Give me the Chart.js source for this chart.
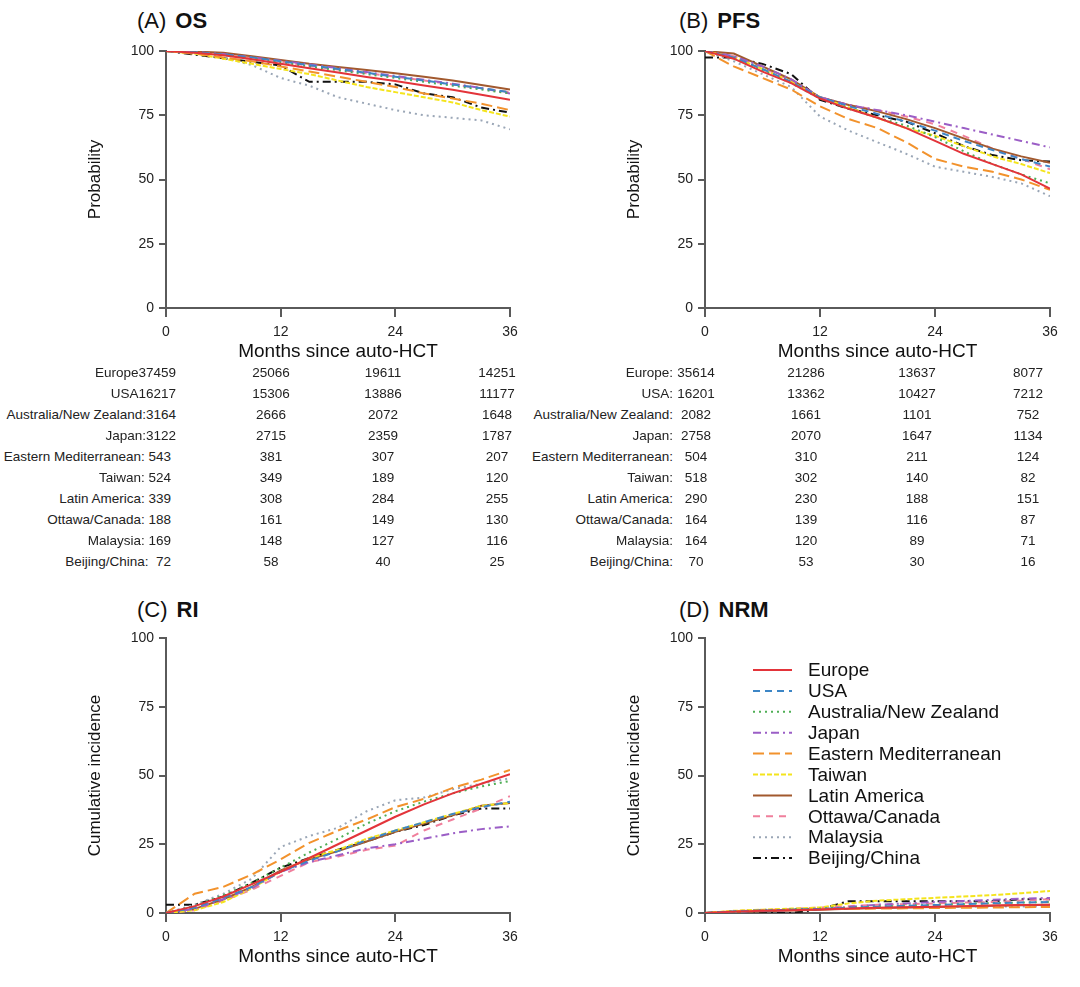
<!DOCTYPE html>
<html>
<head>
<meta charset="utf-8">
<script src="https://cdn.jsdelivr.net/npm/chart.js@4.4.1/dist/chart.umd.min.js"></script>
<style>
  body { margin: 0; background: #fff; width: 1080px; height: 987px; overflow: hidden; position: relative;
         font-family: "Liberation Sans", Arial, sans-serif; color: #222; }
  canvas { position: absolute; }
  .ttl { position: absolute; font-size: 22px; line-height: 24px; white-space: nowrap; color: #111; }
  .ttl b { margin-left: 9px; }
  .cell { position: absolute; font-size: 13.5px; line-height: 16px; white-space: pre; color: #222; }
</style>
</head>
<body>
<div class="ttl" style="left:137px;top:9px">(A)<b>OS</b></div>
<div class="ttl" style="left:679px;top:9px">(B)<b>PFS</b></div>
<div class="ttl" style="left:137px;top:598px">(C)<b>RI</b></div>
<div class="ttl" style="left:679px;top:598px">(D)<b>NRM</b></div>

<script>
const months = [0, 3, 6, 9, 12, 15, 18, 21, 24, 27, 30, 33, 36];

const regions = ['Europe', 'USA', 'Australia/New Zealand', 'Japan', 'Eastern Mediterranean',
                 'Taiwan', 'Latin America', 'Ottawa/Canada', 'Malaysia', 'Beijing/China'];
const colors = ['#e3343a', '#3d86c6', '#4fae55', '#9b5ec6', '#f2922c',
                '#f4e41c', '#a2592e', '#f07f9c', '#9aa6b6', '#111111'];
const dashes = [[], [7, 5], [2, 4], [8, 4, 2, 4], [11, 5],
                [5, 2], [], [7, 6], [2, 4], [8, 4, 2, 4]];

const yTicks = [0, 25, 50, 75, 100];
const xTicks = [0, 12, 24, 36];

// (A) OS
const osValues = [
  [100, 99.3, 98.3, 96.8, 95, 93.3, 91.6, 89.9, 88.3, 86.6, 84.9, 83, 81],
  [100, 99.5, 98.7, 97.5, 96, 94.5, 93, 91.5, 90, 88.5, 87, 85.5, 84],
  [100, 99.5, 98.5, 97.2, 95.6, 94, 92.5, 91, 89.5, 88, 86.5, 85, 83.5],
  [100, 99.6, 98.8, 97.6, 96.2, 94.8, 93.3, 91.8, 90.3, 88.8, 87.3, 85.6, 83.5],
  [100, 99, 97.5, 96, 94, 92, 90, 88, 86, 83.5, 81.5, 79.5, 77],
  [100, 99, 97, 95, 93, 91, 88.5, 86, 84, 82, 80, 77, 74.5],
  [100, 99.8, 99.3, 98, 96.5, 95, 93.8, 92.6, 91.3, 90, 88.5, 86.8, 85],
  [100, 99.5, 98.5, 97.3, 95.8, 94.3, 92.8, 91.3, 90, 88.5, 87, 85.5, 84],
  [100, 99, 97.5, 94.5, 89.5, 86.5, 82, 79.5, 77, 75, 74, 73, 69.5],
  [100, 98.6, 97.2, 95.8, 94.4, 88, 88, 88, 87, 83.5, 82, 78, 76]
];

// (B) PFS
const pfsValues = [
  [100, 97, 92, 87.5, 81.5, 77.5, 74, 70, 65, 60, 56, 52, 46.5],
  [100, 97.5, 93, 88, 82, 78.5, 75.5, 72.5, 69, 65, 61.5, 58, 55],
  [100, 97, 92.5, 87.5, 81.5, 77.5, 74, 71, 66.5, 61, 56, 52, 48.5],
  [100, 98, 94, 89, 82, 79, 77, 75, 72.5, 70, 67.5, 65, 62.5],
  [100, 94, 89.5, 85, 78.5, 73.5, 70, 64.5, 58, 55, 53, 50, 46],
  [100, 97.5, 93, 88, 82, 78, 74, 70, 67, 63, 59, 56, 52.5],
  [100, 99, 94, 89, 82, 79, 76.5, 73.5, 70, 66, 62, 59, 56.5],
  [100, 98, 93.5, 88.5, 82, 79, 77, 74.5, 71.5, 67, 62, 58, 54],
  [100, 96, 91, 86, 74.5, 69, 64.5, 60, 55, 53, 51, 48.5, 43.5],
  [97.5, 97.5, 95, 91, 81, 77.5, 75, 72.5, 68, 63, 59.5, 57.5, 57]
];

// (C) RI
const riValues = [
  [0, 2.5, 6, 10.5, 15, 20, 25, 30, 35, 39.5, 43.5, 47, 50.5],
  [0, 2, 5.5, 9.5, 15, 19, 22.5, 26.5, 30, 33, 36, 38.5, 40.5],
  [0, 2.5, 6.5, 11, 16.5, 22, 27, 32.5, 37, 40.5, 43.5, 46, 48],
  [0, 1.5, 5, 9, 15, 18.5, 21, 23.5, 25, 27, 29, 30.5, 31.5],
  [0, 7, 9.5, 14, 19.5, 25.5, 30, 34, 38.5, 41.5, 45.5, 48.5, 52],
  [0, 1, 4, 9, 15, 20, 23, 27, 30, 33, 36, 39, 40],
  [0, 1.5, 5, 9.5, 15.5, 19.5, 22.5, 26, 29.5, 32.5, 35.5, 39, 40],
  [0, 1, 4.5, 8.5, 13.5, 18.5, 20.5, 23, 24.5, 30, 34, 38, 42.5],
  [0, 3, 7, 12.5, 24, 28, 31, 37, 41, 42, 45, 47, 49],
  [3, 3, 6, 11, 16.5, 20, 23, 26, 29.5, 32, 35.5, 38, 38]
];

// (D) NRM
const nrmValues = [
  [0, 0.5, 0.8, 1.0, 1.3, 1.6, 1.9, 2.1, 2.3, 2.5, 2.7, 2.9, 3.0],
  [0, 0.6, 0.9, 1.2, 1.5, 1.9, 2.3, 2.6, 2.9, 3.2, 3.5, 3.8, 4.0],
  [0, 0.5, 0.9, 1.3, 1.6, 2.0, 2.4, 2.7, 3.0, 3.3, 3.6, 3.8, 4.0],
  [0, 0.4, 0.8, 1.1, 1.4, 2.2, 3.0, 3.5, 4.0, 4.4, 4.8, 5.2, 5.5],
  [0, 0.7, 1.0, 1.2, 1.4, 1.5, 1.6, 1.7, 1.8, 1.9, 2.0, 2.1, 2.2],
  [0, 0.8, 1.2, 1.6, 2.0, 3.5, 4.5, 5.0, 5.5, 6.0, 6.5, 7.2, 8.0],
  [0, 0.3, 0.6, 0.9, 1.2, 1.5, 1.8, 2.0, 2.2, 2.4, 2.6, 2.8, 3.0],
  [0, 0.5, 1.0, 1.5, 2.0, 2.5, 3.0, 3.2, 3.5, 3.8, 4.0, 4.5, 5.0],
  [0, 0.6, 1.2, 1.2, 1.8, 1.8, 1.8, 2.4, 2.4, 2.4, 2.4, 2.4, 2.4],
  [0, 0, 0, 0, 1.4, 4.3, 4.3, 4.3, 4.3, 4.3, 4.3, 5.0, 5.0]
];

// numbers at risk (0, 12, 24, 36 months)
const osRiskLabels = ['Europe37459', 'USA16217', 'Australia/New Zealand:3164', 'Japan:3122',
  'Eastern Mediterranean: 543', 'Taiwan: 524', 'Latin America: 339', 'Ottawa/Canada: 188',
  'Malaysia: 169', 'Beijing/China:  72'];
const osRisk = [[25066, 19611, 14251], [15306, 13886, 11177], [2666, 2072, 1648], [2715, 2359, 1787],
  [381, 307, 207], [349, 189, 120], [308, 284, 255], [161, 149, 130], [148, 127, 116], [58, 40, 25]];

const pfsRiskLabels = ['Europe:', 'USA:', 'Australia/New Zealand:', 'Japan:', 'Eastern Mediterranean:',
  'Taiwan:', 'Latin America:', 'Ottawa/Canada:', 'Malaysia:', 'Beijing/China:'];
const pfsRisk = [[35614, 21286, 13637, 8077], [16201, 13362, 10427, 7212], [2082, 1661, 1101, 752],
  [2758, 2070, 1647, 1134], [504, 310, 211, 124], [518, 302, 140, 82], [290, 230, 188, 151],
  [164, 139, 116, 87], [164, 120, 89, 71], [70, 53, 30, 16]];

const FONT = '"Liberation Sans", Arial, sans-serif';
Chart.defaults.font.family = FONT;
Chart.defaults.color = '#222';

// legend drawn inside the NRM plot
const insideLegend = {
  id: 'insideLegend',
  afterDraw(chart) {
    const ca = chart.chartArea;
    const c = chart.ctx;
    c.save();
    c.font = '19px ' + FONT;
    c.textBaseline = 'middle';
    chart.data.datasets.forEach((ds, i) => {
      const y = ca.top + 32 + i * 20.9;
      c.strokeStyle = ds.borderColor;
      c.lineWidth = 2;
      c.setLineDash(ds.borderDash);
      c.beginPath();
      c.moveTo(ca.left + 48, y);
      c.lineTo(ca.left + 87, y);
      c.stroke();
      c.setLineDash([]);
      c.fillStyle = '#111';
      c.fillText(ds.label, ca.left + 103, y + 1);
    });
    c.restore();
  }
};

function makePanel(L, T, R, B, yTitle, values, legend) {
  const padL = 25, padT = 21, padR = 25, padB = 7, yW = 81, xH = 55;
  const cv = document.createElement('canvas');
  cv.width = (R - L) + padL + yW + padR;
  cv.height = (B - T) + padT + xH + padB;
  cv.style.left = (L - padL - yW) + 'px';
  cv.style.top = (T - padT) + 'px';
  document.body.appendChild(cv);

  const axisLine = { color: '#5a5a5a', width: 2 };
  new Chart(cv.getContext('2d'), {
    type: 'line',
    data: {
      datasets: regions.map((r, i) => ({
        label: r,
        data: months.map((m, k) => ({ x: m, y: values[i][k] })),
        borderColor: colors[i],
        borderDash: dashes[i],
        borderWidth: 2,
        pointRadius: 0,
        fill: false,
        tension: 0
      }))
    },
    options: {
      responsive: false,
      animation: false,
      layout: { padding: { left: padL, top: padT, right: padR, bottom: padB } },
      plugins: { legend: { display: false }, tooltip: { enabled: false } },
      scales: {
        x: {
          type: 'linear', min: 0, max: 36,
          afterBuildTicks: s => { s.ticks = xTicks.map(v => ({ value: v })); },
          ticks: { color: '#222', font: { size: 14 }, padding: 7 },
          grid: { drawOnChartArea: false, tickLength: 9, color: '#5a5a5a', lineWidth: 2 },
          border: axisLine,
          title: { display: true, text: 'Months since auto-HCT', font: { size: 19 }, color: '#111', padding: 0 },
          afterFit: s => { s.height = xH; }
        },
        y: {
          min: 0, max: 100,
          afterBuildTicks: s => { s.ticks = yTicks.map(v => ({ value: v })); },
          ticks: { color: '#222', font: { size: 14 }, padding: 5 },
          grid: { drawOnChartArea: false, tickLength: 7, color: '#5a5a5a', lineWidth: 2 },
          border: axisLine,
          title: { display: true, text: yTitle, font: { size: 17 }, color: '#111', padding: 0 },
          afterFit: s => { s.width = yW; }
        }
      }
    },
    plugins: legend ? [insideLegend] : []
  });
}

function cell(text, x, y, align) {
  const d = document.createElement('div');
  d.className = 'cell';
  d.textContent = text;
  d.style.top = (y - 8) + 'px';
  if (align === 'right') {
    d.style.right = (1080 - x) + 'px';
  } else {
    d.style.left = x + 'px';
    d.style.transform = 'translateX(-50%)';
  }
  document.body.appendChild(d);
}

makePanel(166, 51, 510, 308, 'Probability', osValues, false);
makePanel(705, 51, 1050, 308, 'Probability', pfsValues, false);
makePanel(166, 638, 510, 913, 'Cumulative incidence', riValues, false);
makePanel(705, 638, 1050, 913, 'Cumulative incidence', nrmValues, true);

// risk tables
const osCols = [271, 383, 497];
osRiskLabels.forEach((lab, i) => {
  const y = 373 + i * 21;
  cell(lab, i < 4 ? 176 : 171, y, 'right');
  osRisk[i].forEach((n, j) => cell(String(n), osCols[j], y));
});
const pfsCols = [696, 806, 917, 1028];
pfsRiskLabels.forEach((lab, i) => {
  const y = 373 + i * 21;
  cell(lab, 673, y, 'right');
  pfsRisk[i].forEach((n, j) => cell(String(n), pfsCols[j], y));
});
</script>
</body>
</html>
